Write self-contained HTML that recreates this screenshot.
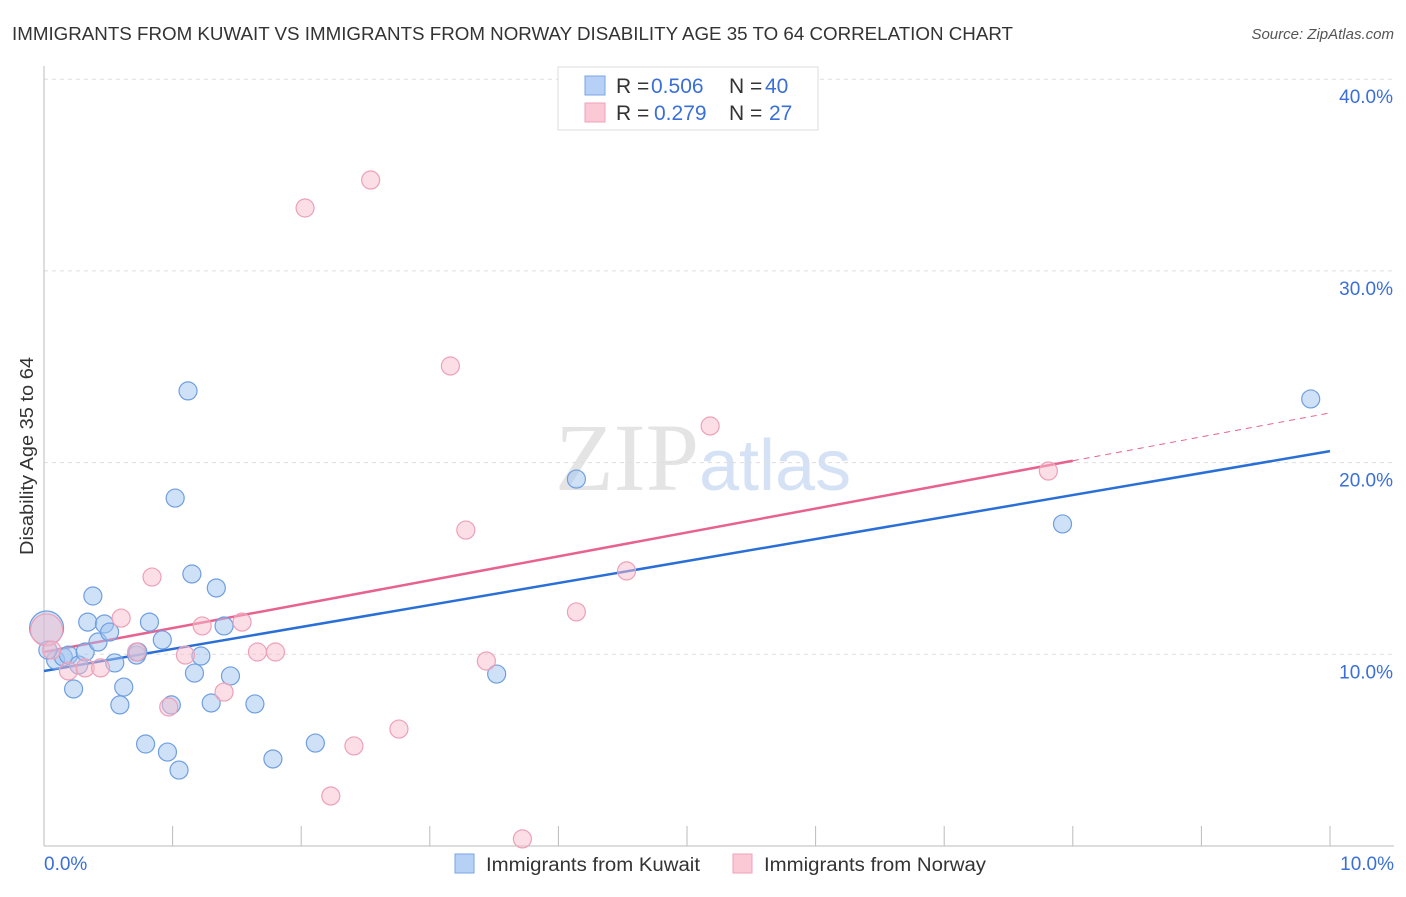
<!DOCTYPE html>
<html><head><meta charset="utf-8">
<style>
body{margin:0;background:#fff;font-family:"Liberation Sans",sans-serif;}
svg text{font-family:"Liberation Sans",sans-serif;}
</style></head>
<body>
<svg id="chart" width="1406" height="892" viewBox="0 0 1406 892">
<text x="12" y="40" font-size="18.5" fill="#333" textLength="1001" lengthAdjust="spacingAndGlyphs">IMMIGRANTS FROM KUWAIT VS IMMIGRANTS FROM NORWAY DISABILITY AGE 35 TO 64 CORRELATION CHART</text>
<text x="1394" y="39" font-size="15" fill="#555" text-anchor="end" font-style="italic">Source: ZipAtlas.com</text>
<text x="555" y="490" font-size="96" fill="#e4e4e4" font-family="Liberation Serif"><tspan font-family="Liberation Serif">ZIP</tspan><tspan fill="#d5e2f5" font-family="Liberation Sans" font-size="72">atlas</tspan></text>
<text transform="translate(33,456) rotate(-90)" font-size="18" fill="#333" text-anchor="middle" textLength="198" lengthAdjust="spacingAndGlyphs">Disability Age 35 to 64</text>
<g id="grid"></g>
<g id="axes"></g>
<g id="lines"></g>
<g id="points"></g>
<g>
<rect x="558" y="67" width="260" height="63" fill="#fff" stroke="#ddd"/>
<rect x="585" y="76" width="20" height="19" fill="#b7d0f5" stroke="#7aa6e6"/>
<rect x="585" y="103" width="20" height="19" fill="#fbc9d6" stroke="#f0a0b8"/>
<text x="616" y="93" font-size="21" fill="#333">R = <tspan fill="#3a6fd8" x="651">0.506</tspan><tspan x="729">N = </tspan><tspan fill="#3a6fd8" x="765">40</tspan></text>
<text x="616" y="120" font-size="21" fill="#333">R = <tspan fill="#3a6fd8" x="654">0.279</tspan><tspan x="729">N = </tspan><tspan fill="#3a6fd8" x="769">27</tspan></text>
</g>
<g>
<rect x="455" y="854" width="19" height="19" fill="#b7d0f5" stroke="#7aa6e6"/>
<text x="486" y="871" font-size="19" fill="#333" textLength="214" lengthAdjust="spacingAndGlyphs">Immigrants from Kuwait</text>
<rect x="733" y="854" width="19" height="19" fill="#fbc9d6" stroke="#f0a0b8"/>
<text x="764" y="871" font-size="19" fill="#333" textLength="222" lengthAdjust="spacingAndGlyphs">Immigrants from Norway</text>
</g>
</svg>
<script>
const kuwaitX=[0.02,0.09,0.15,0.19,0.23,0.27,0.32,0.34,0.38,0.42,0.47,0.51,0.55,0.59,0.62,0.72,0.73,0.79,0.82,0.92,0.96,0.99,1.02,1.05,1.12,1.15,1.17,1.22,1.30,1.34,1.40,1.45,1.64,1.78,2.11,3.52,4.14,7.92,9.85,0.03];
const kuwaitY=[11.37,9.70,9.86,9.96,8.19,9.44,10.12,11.68,13.04,10.64,11.58,11.16,9.55,7.36,8.29,9.96,10.12,5.32,11.68,10.75,4.90,7.36,18.15,3.96,23.74,14.19,9.02,9.91,7.46,13.46,11.48,8.87,7.41,4.54,5.37,8.97,19.14,16.80,23.32,10.22];
const norwayX=[0.02,0.06,0.19,0.32,0.44,0.60,0.72,0.84,0.97,1.10,1.23,1.40,1.54,1.66,1.80,2.03,2.23,2.41,2.54,2.76,3.16,3.28,3.44,3.72,4.14,4.53,5.18,7.81];
const norwayY=[11.27,10.22,9.13,9.29,9.29,11.89,10.12,14.03,7.25,9.96,11.48,8.03,11.68,10.12,10.12,33.28,2.61,5.22,34.74,6.10,25.04,16.48,9.65,0.37,12.21,14.35,21.91,19.56];
const kuwaitTrend=[9.13,20.6];
const norwayTrend=[10.12,22.59];
const norwaySolidEnd=8.0;
const yTicks=[10,20,30,40];
const yTickLabels=["10.0%","20.0%","30.0%","40.0%"];
const xTicks=[0,1,2,3,4,5,6,7,8,9,10];

const NS="http://www.w3.org/2000/svg";
const X=v=>44+v*128.6, Y=v=>846-v*19.17;
function mk(tag,attrs,parent){const e=document.createElementNS(NS,tag);for(const k in attrs)e.setAttribute(k,attrs[k]);document.getElementById(parent).appendChild(e);return e;}
yTicks.forEach((t,i)=>{
  const g=mk('line',{x1:44,x2:1394,y1:Y(t),y2:Y(t),stroke:'#ddd','stroke-dasharray':'4,4'},'grid');
  
  
  const l=mk('text',{x:1393,y:Y(t)+24,'font-size':19,fill:'#3a6fd8','text-anchor':'end'},'axes');
  l.textContent=yTickLabels[i];
  
  
});
const ax=mk('line',{x1:44,x2:44,y1:66,y2:846,stroke:'#bbb'},'axes');


const bx=mk('line',{x1:44,x2:1394,y1:846,y2:846,stroke:'#bbb'},'axes');


xTicks.forEach(t=>{
  const tk=mk('line',{x1:X(t),x2:X(t),y1:826,y2:846,stroke:'#bbb'},'axes');
  
  
});
const xl0=mk('text',{x:44,y:870,'font-size':19,fill:'#3a6fd8'},'axes');xl0.textContent='0.0%';


const xl1=mk('text',{x:1394,y:870,'font-size':19,fill:'#3a6fd8','text-anchor':'end'},'axes');xl1.textContent='10.0%';



const kl=mk('line',{x1:X(0),y1:Y(kuwaitTrend[0]),x2:X(10),y2:Y(kuwaitTrend[1]),stroke:'#2a6fd6','stroke-width':2.5},'lines');


const nAt=x=>norwayTrend[0]+(norwayTrend[1]-norwayTrend[0])*x/10;
const nl=mk('line',{x1:X(0),y1:Y(nAt(0)),x2:X(norwaySolidEnd),y2:Y(nAt(norwaySolidEnd)),stroke:'#e8628e','stroke-width':2.5},'lines');


const nd=mk('line',{x1:X(norwaySolidEnd),y1:Y(nAt(norwaySolidEnd)),x2:X(10),y2:Y(nAt(10)),stroke:'#e8628e','stroke-width':1,'stroke-dasharray':'6,5'},'lines');



kuwaitX.forEach((v,i)=>{
  const c=mk('circle',{cx:X(v),cy:Y(kuwaitY[i]),r:i===0?17:9,fill:'rgba(160,195,240,0.5)',stroke:'#6f9fe0','stroke-width':1.2},'points');
  
  
});
norwayX.forEach((v,i)=>{
  const c=mk('circle',{cx:X(v),cy:Y(norwayY[i]),r:i===0?16:9,fill:'rgba(248,190,205,0.5)',stroke:'#eea0b8','stroke-width':1.2},'points');
  
  
});
</script>
</body></html>
